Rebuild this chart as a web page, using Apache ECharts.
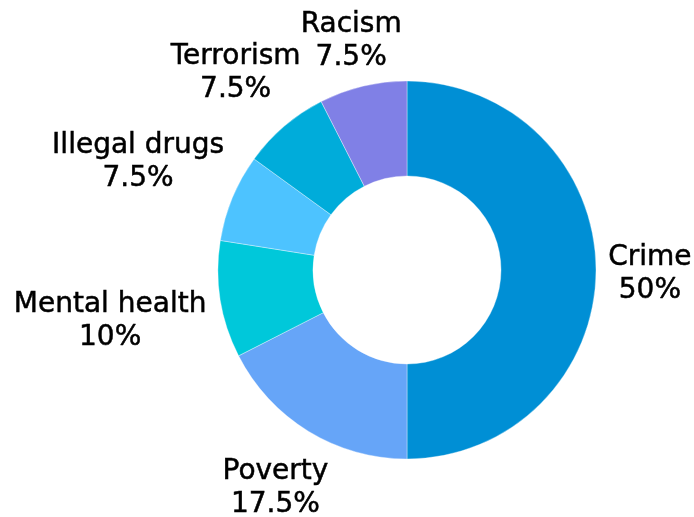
<!DOCTYPE html>
<html>
<head>
<meta charset="utf-8">
<script src="https://cdn.jsdelivr.net/npm/echarts@6/dist/echarts.min.js"></script>
<style>
  html, body { margin: 0; padding: 0; background: #fff; }
  #chart { width: 694px; height: 517px; }
</style>
</head>
<body>
<div id="chart"></div>
<script>
// Share of concern by topic (percent)
const categories = ['Crime', 'Poverty', 'Mental health', 'Illegal drugs', 'Terrorism', 'Racism'];
const shares = [50, 17.5, 10, 7.5, 7.5, 7.5];
const sliceColors = ['#008FD5', '#66A5F8', '#00C8DA', '#4DC3FF', '#00ACDA', '#8080E6'];

const chart = echarts.init(document.getElementById('chart'), null, { renderer: 'canvas' });

// Gap between the ring's outer edge and the nearest side of each label box
const LABEL_GAP = 12;
// Line boxes carry leading above/below the glyphs; don't count it as clearance
const LEADING = 6;
// Glyphs sit a little high in their line boxes; nudge them down
const LABEL_DROP = 4;

// Push each label out along its slice's mid-angle until its box clears the ring
function placeLabel(params) {
  const data = chart.getModel().getSeriesByIndex(0).getData();
  const lay = data.getItemLayout(params.dataIndex);
  const mid = (lay.startAngle + lay.endAngle) / 2;
  const vx = Math.cos(mid);
  const vy = Math.sin(mid);
  const w = params.labelRect.width;
  const h = params.labelRect.height;
  const t = lay.r + LABEL_GAP + Math.abs(vx) * w / 2 + Math.abs(vy) * (h / 2 - LEADING);
  return {
    x: lay.cx + vx * t,
    y: lay.cy + vy * t + LABEL_DROP,
    align: 'center',
    verticalAlign: 'middle'
  };
}

chart.setOption({
  animation: false,
  series: [{
    type: 'pie',
    center: [407, 270],
    radius: [94, 189],
    startAngle: 90,
    clockwise: true,
    avoidLabelOverlap: false,
    itemStyle: { borderColor: 'rgba(255,255,255,0.6)', borderWidth: 0.6 },
    label: {
      show: true,
      position: 'outside',
      formatter: p => p.name + '\n' + p.value + '%',
      fontFamily: 'DejaVu Sans',
      fontSize: 28,
      lineHeight: 33,
      color: '#000',
      textBorderColor: '#000',
      textBorderWidth: 0.5
    },
    labelLine: { show: false, length: 5, length2: 0 },
    labelLayout: placeLabel,
    emphasis: { disabled: true },
    data: categories.map((name, i) => ({
      name: name,
      value: shares[i],
      itemStyle: { color: sliceColors[i] }
    }))
  }]
});
</script>
</body>
</html>
